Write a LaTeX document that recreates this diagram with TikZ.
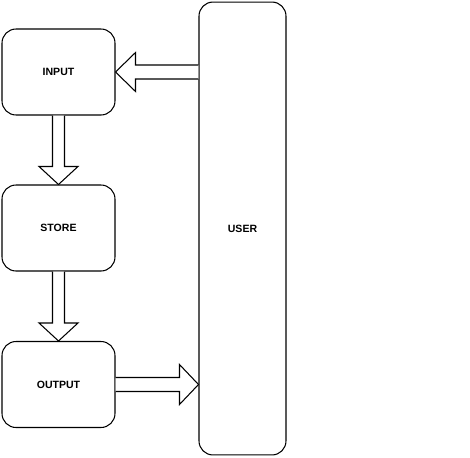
\documentclass[tikz,border=0pt]{standalone}
\usepackage{fontspec}
\setsansfont{Liberation Sans}
\usepackage{tikz}
\usetikzlibrary{calc}

\begin{document}
\begin{tikzpicture}[
  x=0.02cm, y=-0.02cm,
  block/.style={draw, rounded corners=0.28cm, line width=0.6pt,
    minimum width=2.26cm, minimum height=1.72cm, inner sep=0pt,
    font=\fontsize{6}{7}\selectfont\sffamily\bfseries},
  fatarrow/.style={draw, fill=white, line width=0.6pt, line join=miter}
]
  \useasboundingbox (0,0) rectangle (470,457);

  % Blocks
  \node[block] (input) at (58.5,72) {INPUT};
  \node[block] (store) at (58.5,228) {STORE};
  \node[block] (output) at (58.5,384.5) {OUTPUT};
  \node[block, minimum width=1.74cm, minimum height=9.06cm]
    (user) at (242.5,228.5) {USER};

  % Input to store
  \draw[fatarrow] ($(input.south)+(-6,0)$) -- ($(store.north)+(-6,-18)$)
    -- ($(store.north)+(-19.5,-18)$) -- (store.north)
    -- ($(store.north)+(19.5,-18)$) -- ($(store.north)+(6,-18)$)
    -- ($(input.south)+(6,0)$);

  % Store to output
  \draw[fatarrow] ($(store.south)+(-6,0)$) -- ($(output.north)+(-6,-18)$)
    -- ($(output.north)+(-19.5,-18)$) -- (output.north)
    -- ($(output.north)+(19.5,-18)$) -- ($(output.north)+(6,-18)$)
    -- ($(store.south)+(6,0)$);

  % User to input
  \draw[fatarrow] ($(user.west |- input.east)+(0,-7)$)
    -- ($(input.east)+(20,-7)$) -- ($(input.east)+(20,-19.5)$)
    -- (input.east)
    -- ($(input.east)+(20,19.5)$) -- ($(input.east)+(20,7)$)
    -- ($(user.west |- input.east)+(0,7)$);

  % Output to user
  \draw[fatarrow] ($(output.east)+(0,-7)$)
    -- ($(user.west |- output.east)+(-19,-7)$)
    -- ($(user.west |- output.east)+(-19,-20)$)
    -- (user.west |- output.east)
    -- ($(user.west |- output.east)+(-19,20)$)
    -- ($(user.west |- output.east)+(-19,7)$)
    -- ($(output.east)+(0,7)$);
\end{tikzpicture}
\end{document}
